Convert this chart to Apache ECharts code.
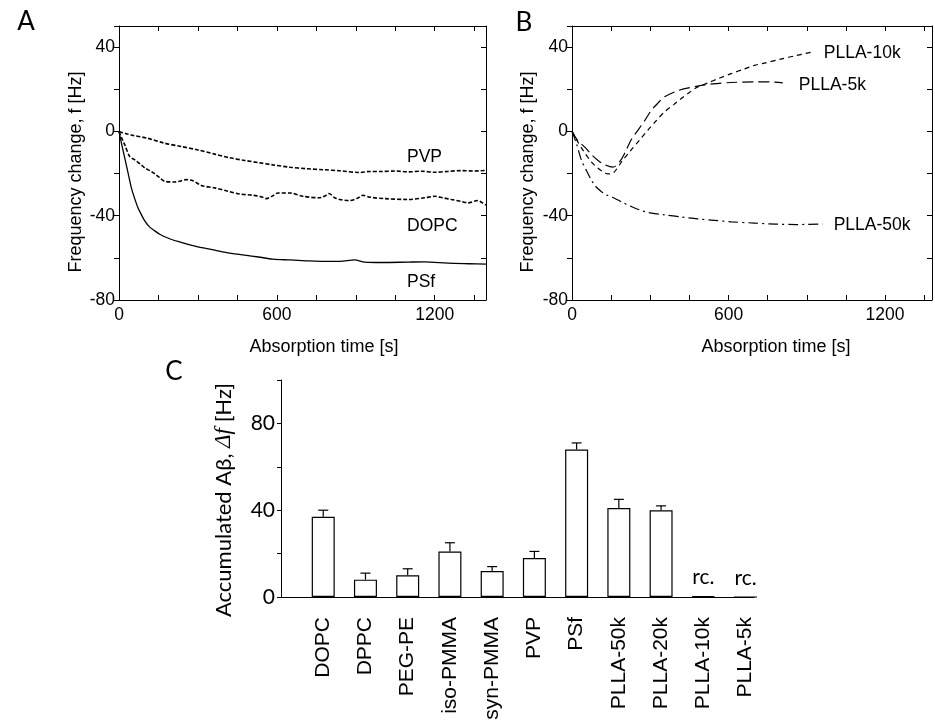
<!DOCTYPE html>
<html>
<head>
<meta charset="utf-8">
<script src="https://cdn.jsdelivr.net/npm/echarts@6/dist/echarts.min.js"></script>
<style>
  html, body { margin: 0; padding: 0; background: #fff; }
  #chart { width: 935px; height: 725px; }
</style>
</head>
<body>
<div id="chart"></div>
<script>
// ---- panel A : adsorption on PVP / DOPC / PSf ----
var pvpTime = [0,25,50,110,170,237,300,364,420,478,530,585,650,712,780,839,915,953,1000,1050,1100,1150,1200,1250,1300,1350,1395];
var pvpFreq = [0,-1,-1.8,-3.3,-5.5,-7.2,-8.8,-10.8,-12.5,-13.8,-14.8,-15.9,-17,-17.7,-18.2,-18.7,-19.5,-19,-19,-18.8,-19.2,-18.9,-19.4,-19,-18.6,-18.8,-18.5];

var dopcTime = [0,10,22,41,60,85,100,123,150,174,212,235,256,281,313,364,414,459,509,540,560,585,604,649,699,763,785,798,820,839,877,910,927,953,1010,1099,1162,1200,1230,1263,1300,1327,1364,1380,1395];
var dopcFreq = [0,-3,-6.4,-12,-13.5,-15.9,-17.5,-19,-21.5,-23.7,-24,-23.5,-22.9,-23.4,-25.7,-26.8,-28.4,-29.7,-30.3,-31,-31.9,-30.5,-29.2,-29.2,-30.8,-31.5,-30.5,-29.5,-31.5,-32.3,-32.8,-31.5,-30.3,-31.2,-31.9,-32.3,-31.5,-30.8,-31.5,-32.3,-33.2,-33.9,-32.8,-33.8,-35];

var psfTime = [0,10,22,35,47,60,72,85,98,115,136,155,174,200,237,270,300,330,364,400,427,478,530,585,650,712,780,839,896,934,1000,1100,1162,1250,1330,1395];
var psfFreq = [0,-6,-12.7,-20,-26.8,-32,-36.2,-39.5,-42.5,-45.2,-47.2,-48.8,-50,-51.3,-52.7,-53.9,-54.8,-55.5,-56.3,-57.3,-57.9,-58.7,-59.6,-60.6,-61,-61.4,-61.7,-61.7,-61,-62,-62.2,-62,-61.9,-62.5,-62.8,-63];

// ---- panel B : PLLA films ----
var k10Time = [0,20,40,74,100,120,138,160,190,227,260,291,320,355,390,419,450,482,521,560,610,660,699,738,800,860,923];
var k10Freq = [0,-4.5,-8.5,-14.5,-17.5,-19.3,-20.2,-19.5,-14.5,-8.8,-4,0.6,4.7,9.3,12.7,15.6,18.5,21.1,23,25,27.4,29.6,31.3,32.4,34.3,36,37.7];

var k5Time = [0,20,49,75,100,125,157,185,202,227,253,278,304,330,355,410,482,540,610,700,760,808];
var k5Freq = [0,-4,-7.5,-11,-13.8,-15.8,-17,-14,-10.4,-4,0.6,5,10,13.5,16.4,19.5,21.5,22.5,23.2,23.5,23.5,23];

var k50Time = [0,17,36,55,74,90,112,135,163,195,227,260,291,355,420,482,545,610,699,780,860,961];
var k50Freq = [0,-5.7,-13.6,-18.5,-23,-26,-28.5,-30.3,-31.7,-33.8,-35.6,-37.3,-38.5,-39.6,-40.6,-41.5,-42.2,-42.9,-43.5,-44,-44.2,-44];

// ---- panel C : accumulated amount ----
var surfaces = ['DOPC','DPPC','PEG-PE','iso-PMMA','syn-PMMA','PVP','PSf','PLLA-50k','PLLA-20k','PLLA-10k','PLLA-5k'];
var accumulated = [37,8,10,21,12,18,68,41,40,0.3,0];
var errors = [3,3,3,4,2,3,3,4,2,0,0];
var notes = ['','','','','','','','','','rc.','rc.'];

var ARIAL = 'Liberation Sans';
var CALI = 'Lato';

function pairs(t, v) {
  return t.map(function (x, i) { return [x, v[i]]; });
}

function timeAxis(grid, pos, max) {
  return {
    type: 'value', gridIndex: grid, position: pos, min: 0, max: max, interval: 150,
    axisLine: { show: true, onZero: false, lineStyle: { color: '#000', width: 1 } },
    axisTick: { show: true, inside: true, length: 5, lineStyle: { color: '#000' } },
    axisLabel: {
      show: pos === 'bottom', margin: 6, color: '#000', fontFamily: ARIAL, fontSize: 17.5,
      formatter: function (v) { return v % 600 === 0 ? String(v) : ''; }
    },
    splitLine: { show: false }
  };
}

function freqAxis(grid, pos) {
  return {
    type: 'value', gridIndex: grid, position: pos, min: -80, max: 50, interval: 20,
    axisLine: { show: true, onZero: false, lineStyle: { color: '#000', width: 1 } },
    axisTick: { show: true, inside: pos === 'right', length: 5, lineStyle: { color: '#000' } },
    axisLabel: {
      show: pos === 'left', margin: 4, color: '#000', fontFamily: ARIAL, fontSize: 17.5,
      formatter: function (v) { return v % 40 === 0 ? String(v) : ''; }
    },
    splitLine: { show: false }
  };
}

function curve(name, t, v, xi, yi, dash, width, label) {
  return {
    name: name, type: 'line', xAxisIndex: xi, yAxisIndex: yi,
    data: pairs(t, v), symbol: 'none', smooth: 0.3, silent: true,
    lineStyle: { color: '#000', width: width, type: dash },
    endLabel: Object.assign({
      show: true, color: '#000', fontFamily: ARIAL, fontSize: 17.5,
      formatter: function (p) { return p.seriesName; }
    }, label)
  };
}

var chart = echarts.init(document.getElementById('chart'));

var option = {
  backgroundColor: '#fff',
  animation: false,
  grid: [
    { left: 119, top: 26, width: 367, height: 274 },
    { left: 572, top: 26, width: 361, height: 274 },
    { left: 281, top: 380, width: 473, height: 217 }
  ],
  xAxis: [
    timeAxis(0, 'bottom', 1395),
    timeAxis(0, 'top', 1395),
    timeAxis(1, 'bottom', 1380),
    timeAxis(1, 'top', 1380),
    {
      type: 'value', gridIndex: 2, min: 0, max: 11.2, interval: 1,
      axisLine: { show: true, onZero: false, lineStyle: { color: '#000', width: 1.2 } },
      axisTick: { show: false },
      axisLabel: {
        rotate: 90, margin: 20, color: '#000', fontFamily: ARIAL, fontSize: 21,
        formatter: function (v) { return surfaces[v - 1] || ''; }
      },
      splitLine: { show: false }
    }
  ],
  yAxis: [
    freqAxis(0, 'left'),
    freqAxis(0, 'right'),
    freqAxis(1, 'left'),
    freqAxis(1, 'right'),
    {
      type: 'value', gridIndex: 2, min: 0, max: 100, interval: 20,
      axisLine: { show: true, lineStyle: { color: '#000', width: 1 } },
      axisTick: { show: true, length: 4, lineStyle: { color: '#000' } },
      axisLabel: {
        margin: 6, color: '#000', fontFamily: CALI, fontSize: 21,
        formatter: function (v) { return v % 40 === 0 ? String(v) : ''; }
      },
      splitLine: { show: false }
    }
  ],
  series: [
    curve('PVP', pvpTime, pvpFreq, 0, 0, [4, 2], 1.6, { offset: [-87, -13] }),
    curve('DOPC', dopcTime, dopcFreq, 0, 0, [4, 2], 1.6, { offset: [-87, 21] }),
    curve('PSf', psfTime, psfFreq, 0, 0, 'solid', 1.3, { offset: [-87, 18] }),
    curve('PLLA-10k', k10Time, k10Freq, 2, 2, [5, 4], 1.2, { distance: 11, offset: [0, 1] }),
    curve('PLLA-5k', k5Time, k5Freq, 2, 2, [11, 5], 1.2, { distance: 16, offset: [0, 2] }),
    curve('PLLA-50k', k50Time, k50Freq, 2, 2, [10, 4, 2, 4], 1.2, { distance: 11, offset: [0, 1] }),
    {
      type: 'bar', xAxisIndex: 4, yAxisIndex: 4, barWidth: 23, silent: true,
      data: surfaces.map(function (s, i) { return [i + 1, accumulated[i]]; }),
      itemStyle: { color: '#fff', borderColor: '#000', borderWidth: 1.2 },
      label: {
        show: true, position: 'top', distance: 8, color: '#000', fontFamily: CALI, fontSize: 21,
        formatter: function (p) { return notes[p.dataIndex]; }
      }
    },
    {
      type: 'custom', xAxisIndex: 4, yAxisIndex: 4, silent: true,
      data: surfaces.map(function (s, i) { return [i + 1, accumulated[i], errors[i]]; }),
      renderItem: function (params, api) {
        var err = api.value(2);
        if (!err) return null;
        var base = api.coord([api.value(0), api.value(1)]);
        var tip = api.coord([api.value(0), api.value(1) + err]);
        var hw = 5;
        var st = { stroke: '#000', lineWidth: 1.2 };
        return {
          type: 'group',
          children: [
            { type: 'line', shape: { x1: base[0], y1: base[1], x2: tip[0], y2: tip[1] }, style: st },
            { type: 'line', shape: { x1: tip[0] - hw, y1: tip[1], x2: tip[0] + hw, y2: tip[1] }, style: st }
          ]
        };
      }
    }
  ],
  graphic: [
    { type: 'text', x: 26, y: 22, style: { text: 'A', fontFamily: CALI, fontSize: 26, fill: '#000', align: 'center', verticalAlign: 'middle' } },
    { type: 'text', x: 524, y: 23, style: { text: 'B', fontFamily: CALI, fontSize: 26, fill: '#000', align: 'center', verticalAlign: 'middle' } },
    { type: 'text', x: 174, y: 372, style: { text: 'C', fontFamily: CALI, fontSize: 26, fill: '#000', align: 'center', verticalAlign: 'middle' } },
    { type: 'text', x: 76, y: 172, rotation: Math.PI / 2, style: { text: 'Frequency change, f [Hz]', fontFamily: ARIAL, fontSize: 18, fill: '#000', align: 'center', verticalAlign: 'middle' } },
    { type: 'text', x: 528, y: 172, rotation: Math.PI / 2, style: { text: 'Frequency change, f [Hz]', fontFamily: ARIAL, fontSize: 18, fill: '#000', align: 'center', verticalAlign: 'middle' } },
    { type: 'text', x: 324, y: 347, style: { text: 'Absorption time [s]', fontFamily: ARIAL, fontSize: 18, fill: '#000', align: 'center', verticalAlign: 'middle' } },
    { type: 'text', x: 776, y: 347, style: { text: 'Absorption time [s]', fontFamily: ARIAL, fontSize: 18, fill: '#000', align: 'center', verticalAlign: 'middle' } },
    {
      type: 'text', x: 224, y: 500, rotation: Math.PI / 2,
      style: {
        text: '{n|Accumulated Aβ, }{i|Δf}{n| [Hz]}', fill: '#000', align: 'center', verticalAlign: 'middle',
        rich: {
          n: { fontFamily: CALI, fontSize: 22, fill: '#000' },
          i: { fontFamily: 'Liberation Serif', fontStyle: 'italic', fontSize: 23, fill: '#000' }
        }
      }
    }
  ]
};

chart.setOption(option);
</script>
</body>
</html>
